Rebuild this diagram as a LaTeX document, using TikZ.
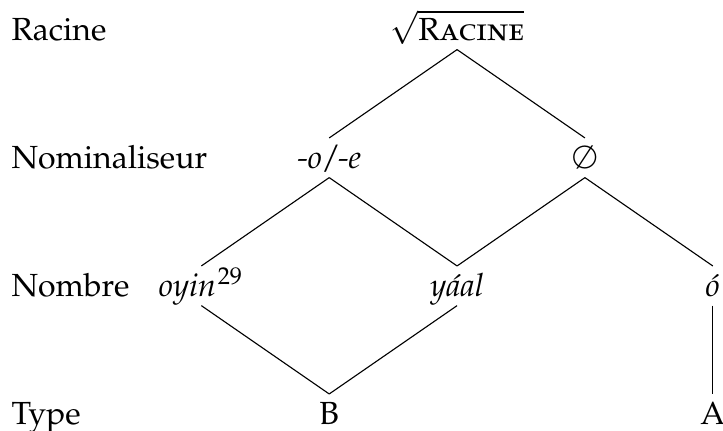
\documentclass[tikz,border=0pt]{standalone}
\usepackage[T1]{fontenc}
\usepackage[sc]{mathpazo}
\usepackage{amsmath, amssymb}
\usepackage{tikz}
\usetikzlibrary{positioning}

\begin{document}
\begin{tikzpicture}[x=39.95pt, y=40pt,
    lvl/.style={anchor=base west, inner sep=0pt},
    morph/.style={anchor=base, text height=8pt, text depth=1.6pt, inner xsep=1pt, inner ysep=1.2pt}]
    \useasboundingbox (-1.575,-0.0475) rectangle ++(5.655,3.36);
    % niveaux
    \node[lvl] (lracine) at (-1.49,3) {Racine};
    \node[lvl] (lnomin) at (-1.49,2) {Nominaliseur};
    \node[lvl] (lnombre) at (-1.49,1) {Nombre};
    \node[lvl] (ltype) at (-1.49,0) {Type};
    % arbre
    \node[morph] (racine) at (2,3) {$\sqrt{\text{\textsc{Racine}}}$};
    \node[morph] (oe) at (1,2) {\textit{-o\kern1pt/\kern1pt-e}};
    \node[morph] (zero) at (3,2) {$\emptyset$};
    \node[morph] (oyin) at (0,1) {\textit{oyin\/}\kern0.6pt\textsuperscript{29}};
    \node[morph] (yaal) at (2,1) {\textit{y\'aal}};
    \node[morph] (o) at (4,1) {\textit{\'o}};
    \node[morph] (b) at (1,0) {B};
    \node[morph] (a) at (4,0) {A};
    \draw[line width=0.35pt] (racine.south) -- (oe.north);
    \draw[line width=0.35pt] (racine.south) -- (zero.north);
    \draw[line width=0.35pt] (oe.south) -- (oyin.north);
    \draw[line width=0.35pt] (oe.south) -- (yaal.north);
    \draw[line width=0.35pt] (zero.south) -- (yaal.north);
    \draw[line width=0.35pt] (zero.south) -- (o.north);
    \draw[line width=0.35pt] (oyin.south) -- (b.north);
    \draw[line width=0.35pt] (yaal.south) -- (b.north);
    \draw[line width=0.35pt] (o.south) -- (a.north);
\end{tikzpicture}
\end{document}
